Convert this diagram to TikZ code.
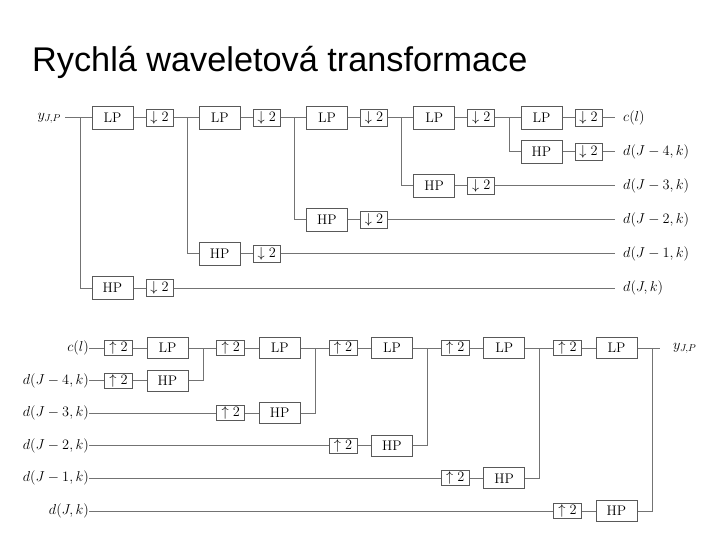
\documentclass[tikz,border=0pt]{standalone}
\usepackage{fontspec}
\newfontfamily\titlefont{Liberation Sans}

\begin{document}
\begin{tikzpicture}[x=1bp, y=-1bp,
    wire/.style={black!55, line width=1bp},
    filt/.style={draw=black!65, line width=1bp, minimum width=41bp, minimum height=23bp,
      inner sep=0pt, font=\fontsize{14}{16}\selectfont},
    samp/.style={draw=black!65, line width=1bp, minimum width=27bp, minimum height=17bp,
      inner sep=0pt, font=\fontsize{14}{16}\selectfont},
    lab/.style={inner sep=0pt, font=\fontsize{14.5}{16}\selectfont}]
  \useasboundingbox (0,0) rectangle (720,540);
  \node[anchor=base west, inner sep=0pt, font=\titlefont\fontsize{34.4}{40}\selectfont] (title)
    at (32,72) {Rychlá waveletová transformace};

  % rozklad
  \node[lab, anchor=east] (yin) at (61,118) {$y_{J,P}$};
  \node[lab, anchor=west] (cl) at (623,118) {$c(l)$};
  \foreach \i/\d in {1/J,2/J-1,3/J-2,4/J-3,5/J-4} {
    \pgfmathsetmacro\jx{80+107.25*(\i-1)}
    \pgfmathsetmacro\hy{118+34*(6-\i)}
    \coordinate (j\i) at (\jx,118);
    \node[filt] (lp\i) at (\jx+32.5,118) {LP};
    \node[samp] (dl\i) at (\jx+79.5,118) {$\downarrow 2$};
    \node[filt] (hp\i) at (\jx+32.5,\hy) {HP};
    \node[samp] (dh\i) at (\jx+79.5,\hy) {$\downarrow 2$};
    \node[lab, anchor=west] (d\i) at (623,\hy) {$d(\d,k)$};
    \draw[wire] (j\i) -- (lp\i) (lp\i) -- (dl\i);
    \draw[wire] (j\i) |- (hp\i) (hp\i) -- (dh\i);
    \draw[wire, shorten >=8bp] (dh\i) -- (d\i);
  }
  \draw[wire, shorten <=4bp] (yin) -- (j1);
  \foreach \i [count=\n from 2] in {1,...,4}
    \draw[wire] (dl\i) -- (j\n);
  \draw[wire, shorten >=8bp] (dl5) -- (cl);

  % skladani
  \begin{scope}[filt/.append style={minimum height=21bp},
      samp/.append style={minimum width=28bp, minimum height=15bp}]
    \node[lab, anchor=east] (cin) at (89,348) {$c(l)$};
    \node[lab, anchor=west] (yout) at (673,348) {$y_{J,P}$};
    \foreach \i/\d in {1/J-4,2/J-3,3/J-2,4/J-1,5/J} {
      \pgfmathsetmacro\jx{203+112.25*(\i-1)}
      \pgfmathsetmacro\hy{348+32.6*\i}
      \coordinate (m\i) at (\jx,348);
      \node[samp] (ul\i) at (\jx-84.5,348) {$\uparrow 2$};
      \node[filt] (rl\i) at (\jx-35.5,348) {LP};
      \node[samp] (uh\i) at (\jx-84.5,\hy) {$\uparrow 2$};
      \node[filt] (rh\i) at (\jx-35.5,\hy) {HP};
      \node[lab, anchor=east] (e\i) at (89,\hy) {$d(\d,k)$};
      \draw[wire] (ul\i) -- (rl\i) (rl\i) -- (m\i);
      \draw[wire] (e\i) -- (uh\i) (uh\i) -- (rh\i) (rh\i) -| (m\i);
    }
    \draw[wire] (cin) -- (ul1);
    \foreach \i [count=\n from 2] in {1,...,4}
      \draw[wire] (m\i) -- (ul\n);
    \draw[wire, shorten >=13bp] (m5) -- (yout);
  \end{scope}
\end{tikzpicture}
\end{document}
